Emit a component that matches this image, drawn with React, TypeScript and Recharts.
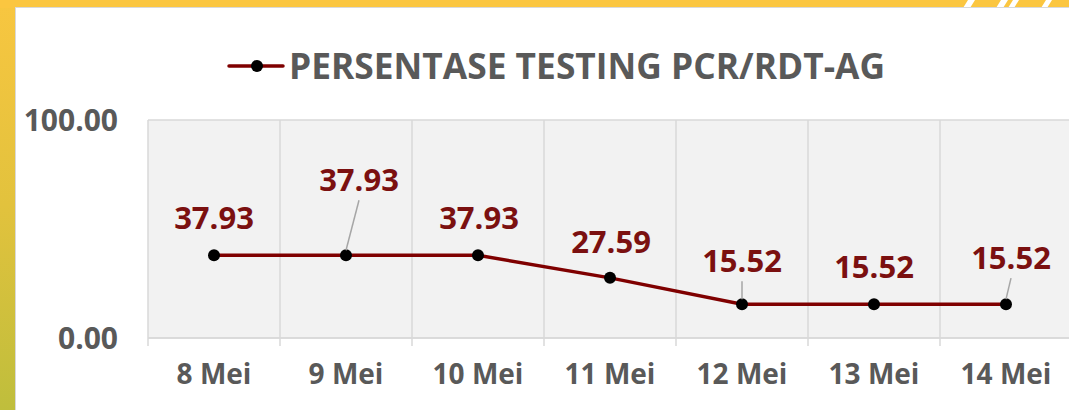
import React from 'react';
import { LineChart, Line, XAxis, YAxis, CartesianGrid, LabelList } from 'recharts';

const categories = ['8 Mei', '9 Mei', '10 Mei', '11 Mei', '12 Mei', '13 Mei', '14 Mei'];
const persentase = [37.93, 37.93, 37.93, 27.59, 15.52, 15.52, 15.52];
const yTicks = [0, 100];
const seriesName = 'PERSENTASE TESTING PCR/RDT-AG';

const data = categories.map((tgl, i) => ({ tgl, nilai: persentase[i] }));

const CHART_W = 1072;
const CHART_H = 410;
const M_LEFT = 0;
const Y_W = 148;
const PLOT_W = CHART_W - Y_W;
const BAND = PLOT_W / categories.length;

const FONT = '"Open Sans", "DejaVu Sans", sans-serif';
const GREY = '#595959';
const RED = '#7f0000';
const LABEL_RED = '#7b1010';

// where Excel had moved each label (dx, baseline dy from the point)
const labelShift = [
  { dx: 0, dy: -26, leader: false },
  { dx: 13, dy: -64, leader: true },
  { dx: 1, dy: -26, leader: false },
  { dx: 1, dy: -25, leader: false },
  { dx: 0, dy: -32, leader: true },
  { dx: 0, dy: -26, leader: false },
  { dx: 5, dy: -35, leader: true },
];

const PointLabel = (props: any) => {
  const { x, y, value, index } = props;
  const s = labelShift[index] || { dx: 0, dy: -26, leader: false };
  const lx = x + s.dx;
  const ly = y + s.dy;
  return (
    <g>
      {s.leader && (
        <line x1={lx} y1={ly + 9} x2={x} y2={y - 5} stroke="#a6a6a6" strokeWidth={1.5} />
      )}
      <text
        x={lx}
        y={ly}
        textAnchor="middle"
        fill={LABEL_RED}
        fontFamily={FONT}
        fontWeight={700}
        fontSize={31}
      >
        {Number(value).toFixed(2)}
      </text>
    </g>
  );
};

const XTick = (props: any) => {
  const { x, y, payload } = props;
  return (
    <g>
      <line x1={x - BAND / 2} y1={y} x2={x - BAND / 2} y2={y + 8} stroke="#d9d9d9" strokeWidth={1.5} />
      <text
        x={x}
        y={y + 46}
        textAnchor="middle"
        fill={GREY}
        fontFamily={FONT}
        fontWeight={700}
        fontSize={28}
      >
        {payload.value}
      </text>
    </g>
  );
};

const Frame = () => (
  <svg width={1069} height={410} style={{ position: 'absolute', left: 0, top: 0 }}>
    <defs>
      <linearGradient id="sideGrad" x1="0" y1="0" x2="0" y2="1">
        <stop offset="0" stopColor="#f8c640" />
        <stop offset="0.5" stopColor="#e2c23d" />
        <stop offset="1" stopColor="#bfbe3c" />
      </linearGradient>
    </defs>
    <rect x={0} y={0} width={1069} height={410} fill="url(#sideGrad)" />
    <rect x={0} y={0} width={1069} height={8} fill="#fbc640" />
    <polygon points="963,8 968,0 975,0 970,8" fill="#ffffff" />
    <polygon points="996,8 1001,0 1008,0 1003,8" fill="#ffffff" />
    <polygon points="1008,8 1013,0 1019,0 1014,8" fill="#ffffff" />
    <polygon points="1041,8 1046,0 1052,0 1047,8" fill="#ffffff" />
    <rect x={15.5} y={7.5} width={1060} height={410} fill="#ffffff" stroke="#d9d9d9" strokeWidth={1} />
  </svg>
);

const Title = () => (
  <svg width={1069} height={110} style={{ position: 'absolute', left: 0, top: 0 }}>
    <line x1={229} y1={66} x2={283} y2={66} stroke={RED} strokeWidth={3.5} strokeLinecap="round" />
    <circle cx={257} cy={66} r={6} fill="#000" />
    <text
      x={289}
      y={79}
      fill={GREY}
      fontFamily={FONT}
      fontWeight={700}
      fontSize={36}
      textLength={596}
      lengthAdjust="spacingAndGlyphs"
    >
      {seriesName}
    </text>
  </svg>
);

export default function App() {
  return (
    <div
      style={{
        position: 'absolute',
        left: 0,
        top: 0,
        width: 1069,
        height: 410,
        overflow: 'hidden',
        background: '#fff',
      }}
    >
      <Frame />
      <Title />
      <div style={{ position: 'absolute', left: 0, top: 0 }}>
        <LineChart
          width={CHART_W}
          height={CHART_H}
          data={data}
          margin={{ top: 120, right: 0, bottom: 0, left: M_LEFT }}
        >
          <CartesianGrid
            fill="#f2f2f2"
            stroke="#d9d9d9"
            strokeWidth={1.5}
            verticalCoordinatesGenerator={({ offset }: any) =>
              categories.map((_, i) => offset.left + (i * offset.width) / categories.length).concat(offset.left + offset.width)
            }
          />
          <XAxis
            dataKey="tgl"
            scale="band"
            height={72}
            axisLine={{ stroke: '#d9d9d9', strokeWidth: 1.5 }}
            tickLine={false}
            tickSize={0}
            tickMargin={0}
            tick={<XTick />}
            interval={0}
          />
          <YAxis
            width={Y_W}
            domain={[0, 100]}
            ticks={yTicks}
            axisLine={false}
            tickLine={false}
            tickSize={0}
            tickMargin={30}
            tickFormatter={(v: number) => v.toFixed(2)}
            tick={{ fill: GREY, fontFamily: FONT, fontWeight: 700, fontSize: 30 }}
          />
          <Line
            type="linear"
            dataKey="nilai"
            name={seriesName}
            stroke={RED}
            strokeWidth={3.5}
            dot={{ r: 6, fill: '#000', stroke: '#000', strokeWidth: 0 }}
            activeDot={false}
            isAnimationActive={false}
          >
            <LabelList dataKey="nilai" content={<PointLabel />} />
          </Line>
        </LineChart>
      </div>
    </div>
  );
}
